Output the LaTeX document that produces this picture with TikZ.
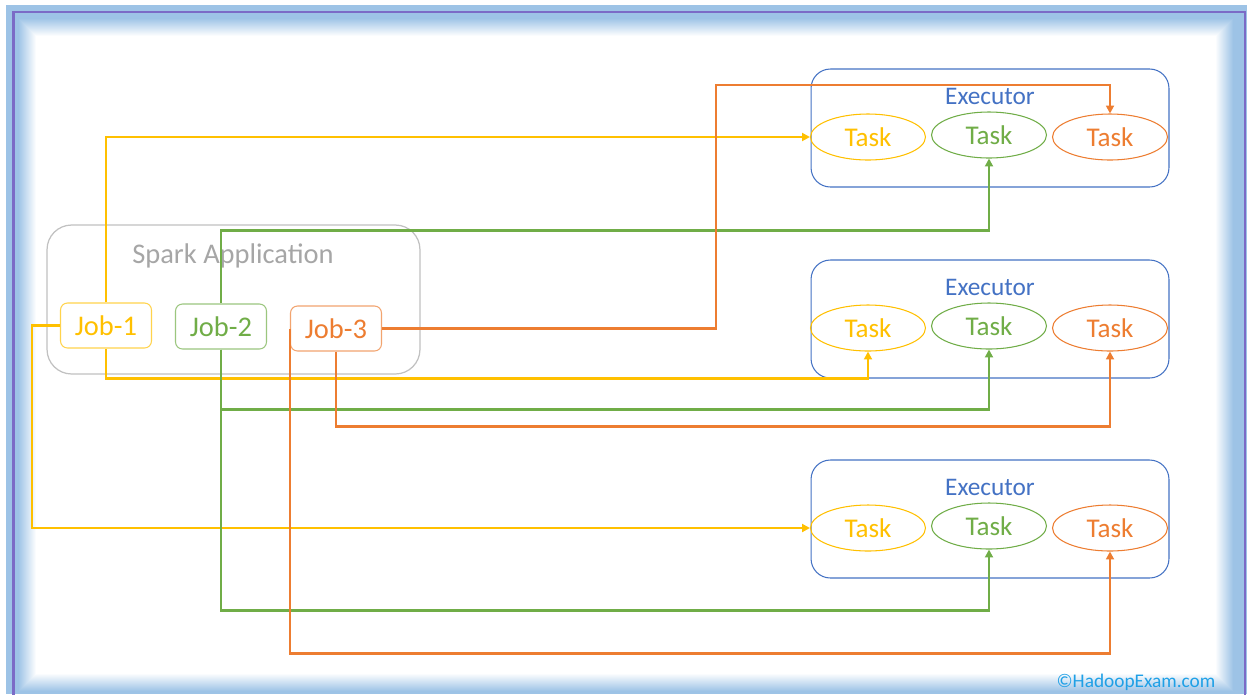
\documentclass[tikz,border=0pt]{standalone}
\usepackage{fontspec}
\setmainfont{Carlito}
\usepackage{xcolor}
\usepackage{tikz}
\usetikzlibrary{shapes.geometric,arrows.meta}

\definecolor{jobyellow}{HTML}{FFC000}
\definecolor{jobgreen}{HTML}{70AD47}
\definecolor{joborange}{HTML}{ED7D31}
\definecolor{execblue}{HTML}{4472C4}
\definecolor{appgray}{HTML}{A6A6A6}
\definecolor{glowblue}{HTML}{9DC3E6}
\definecolor{framepurple}{HTML}{7B6BC6}
\definecolor{markblue}{HTML}{1FA0E6}

\begin{document}
\begin{tikzpicture}[x=0.02cm,y=-0.02cm,
    appbox/.style={draw=appgray!70,line width=0.7pt,rounded corners=14pt,
      minimum width=7.46cm,minimum height=2.98cm},
    jobbox/.style={draw=#1!70,text=#1,fill=white,line width=0.6pt,rounded corners=4pt,
      minimum width=1.82cm,minimum height=0.9cm,font=\fontsize{16.2}{19}\selectfont},
    execbox/.style={draw=execblue,line width=0.6pt,rounded corners=11pt,
      minimum width=7.16cm,minimum height=2.36cm},
    taskell/.style={ellipse,draw=#1,text=#1,line width=0.6pt,inner sep=0pt,
      minimum width=2.3cm,minimum height=0.92cm,font=\fontsize{15.4}{18}\selectfont},
    link/.style={draw=#1,line width=1.4pt,-{Triangle[length=4.5pt,width=4.5pt]}}]
  \useasboundingbox (0,0) rectangle (1247,694);

  % frame with soft inner glow
  \fill[glowblue] (6,5) rectangle (1247,694);
  \foreach \i in {0,...,18} {
    \pgfmathsetmacro\p{100-\i*100/18}
    \fill[glowblue!\p!white] (18+\i,18+\i) rectangle (1234-\i,692-\i);
  }
  \draw[framepurple,line width=1.2pt] (13.5,700) -- (13.5,12) -- (1245,12) -- (1245,700);

  % application side
  \node[appbox] (app) at (233.5,299.5) {};
  \node[text=appgray,font=\fontsize{16.2}{19}\selectfont] (apptitle) at (233,256) {Spark Application};
  \node[jobbox=jobyellow] (j1) at (106,325.5) {Job-1};
  \node[jobbox=jobgreen] (j2) at (221,326.5) {Job-2};
  \node[jobbox=joborange] (j3) at (336,328.5) {Job-3};

  % executors and their tasks
  \foreach \r/\y in {1/128,2/319,3/519} {
    \node[execbox] (ex\r) at (990,\y) {};
    \node[text=execblue,font=\fontsize{14.4}{17}\selectfont] (exl\r) at (990,\y-32) {Executor};
    \node[taskell=jobyellow] (t\r1) at (868,\y+9) {Task};
    \node[taskell=jobgreen] (t\r2) at (989,\y+7) {Task};
    \node[taskell=joborange] (t\r3) at (1110,\y+9) {Task};
  }

  % Job-1
  \draw[link=jobyellow] (j1.north) |- (t11.west);
  \draw[link=jobyellow] (j1.south) -- ++(0,30) -| (t21.south);
  \draw[link=jobyellow] (j1.west) -- ++(-28,0) |- (t31.west);

  % Job-2
  \draw[link=jobgreen] (j2.north) -- ++(0,-73) -| (t12.south);
  \draw[link=jobgreen] (j2.south) -- ++(0,60) -| (t22.south);
  \draw[link=jobgreen] (j2.south) -- ++(0,261) -| (t32.south);

  % Job-3
  \coordinate (bend) at (716,85);
  \draw[link=joborange] (j3.east) -| (bend) -| (t13.north);
  \draw[link=joborange] (j3.south) -- ++(0,75) -| (t23.south);
  \draw[link=joborange] (j3.west) -- ++(0,325) -| (t33.south);

  \node[text=markblue,font=\fontsize{11}{13}\selectfont] (mark) at (1136,682) {©HadoopExam.com};
\end{tikzpicture}
\end{document}
